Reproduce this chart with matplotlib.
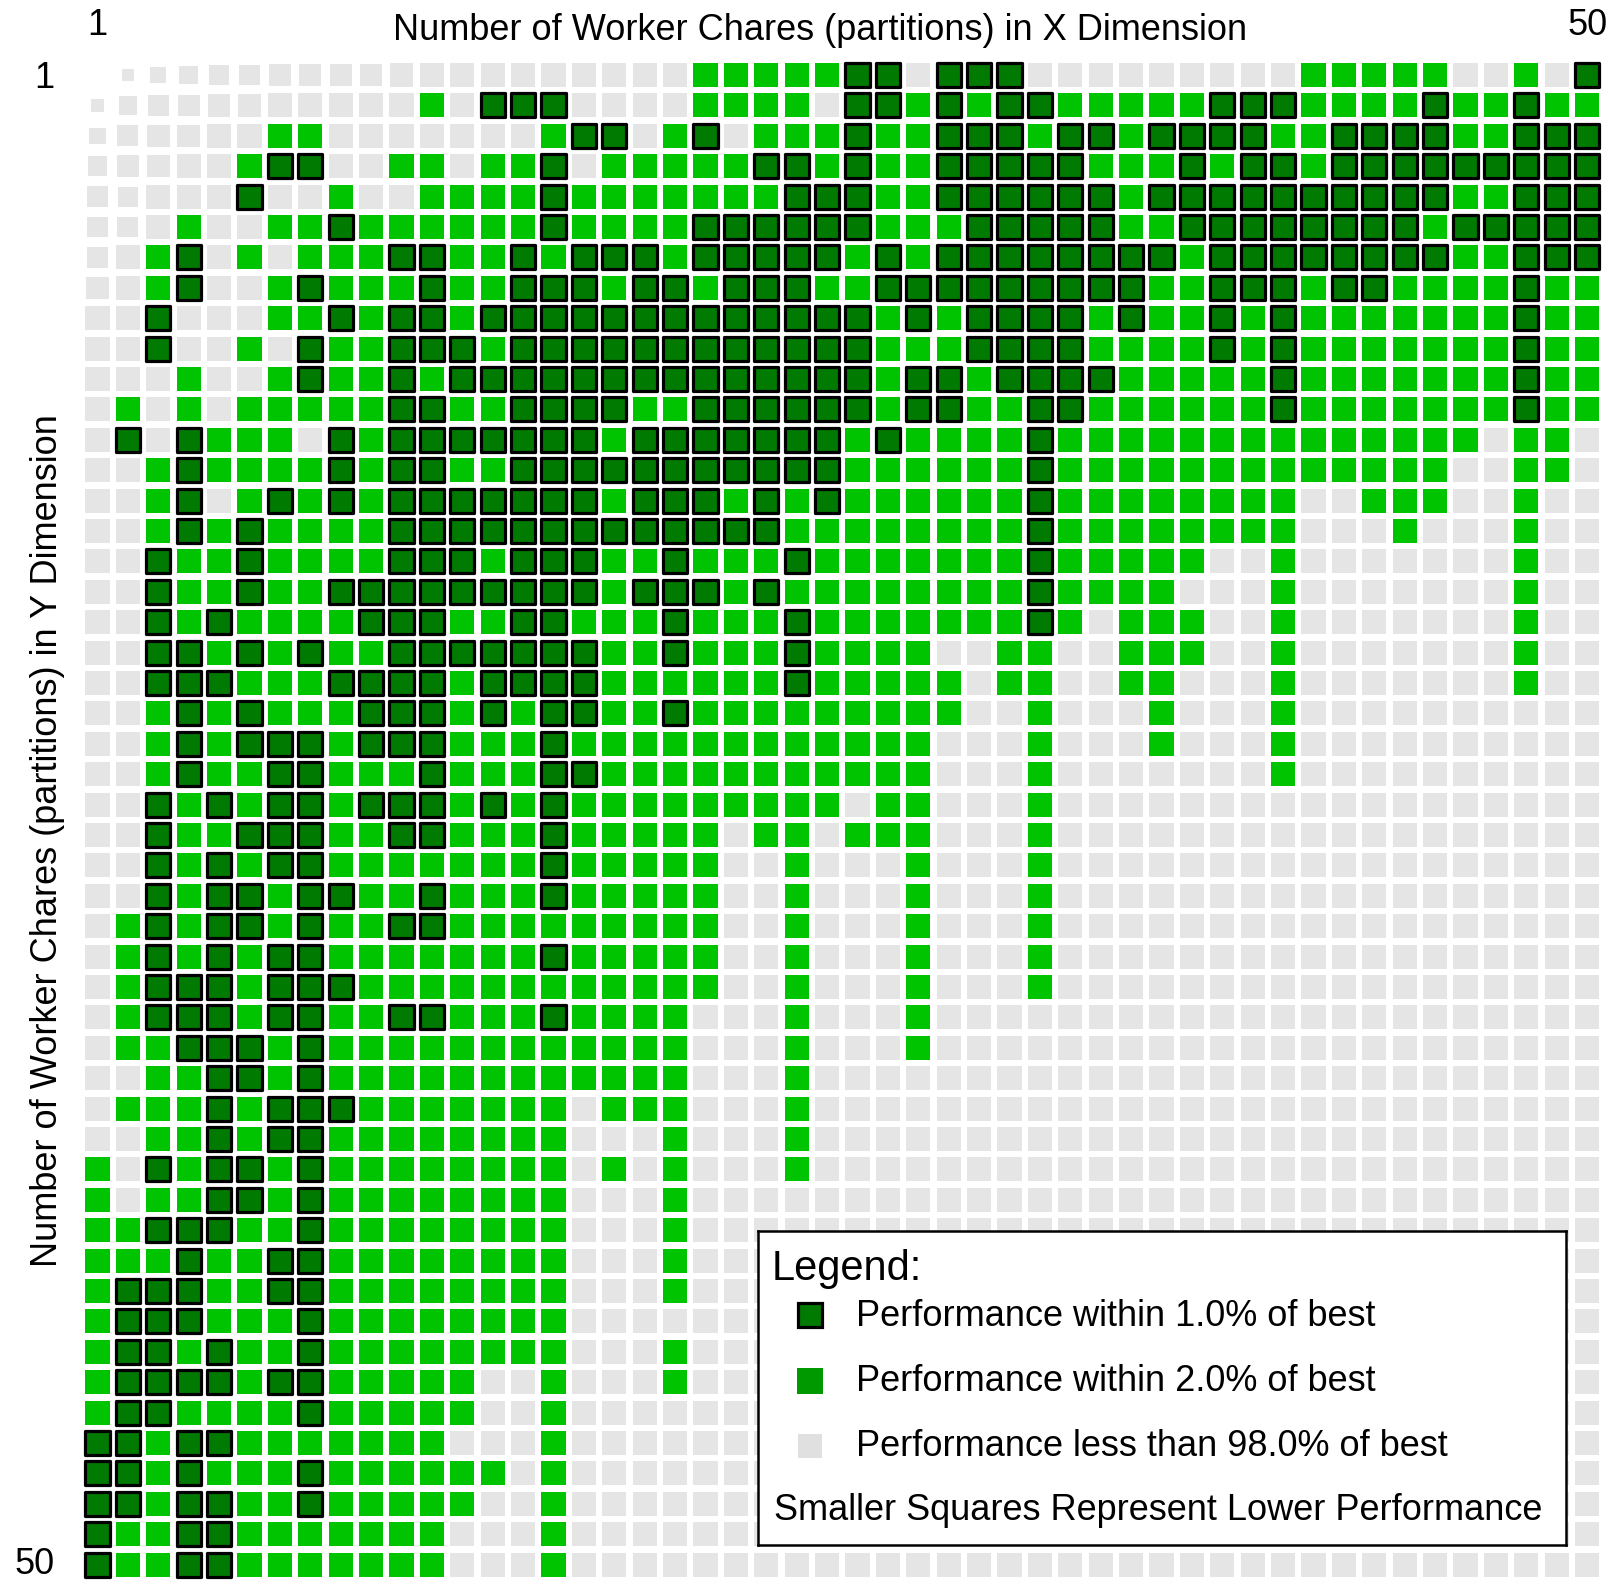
import matplotlib
matplotlib.use("Agg")
import matplotlib.pyplot as plt
from matplotlib.patches import Rectangle
from matplotlib.collections import PatchCollection

plt.rcParams['font.family'] = ['Liberation Sans', 'DejaVu Sans']

# one string per Y partition count (1..50), one char per X partition count (1..50)
# D = within 1.0% of best, G = within 2.0% of best, . = less than 98% of best
tier_rows = [
    ".......... .......... GGGGGDD.DD D......... GGGGG..G.D",
    ".......... .G.DDD.... GGGG.DDGDG DDGGGGGDDD GGGGDGGDGG",
    "......GG.. .....GDD.G D.GGGDGGDD DGDDGDDDDG GDDDDGGDDD",
    ".....GDD.. GG.GGD.GGG GGDDGDGGDD DDDGGGDGDD GDDDDDDDDD",
    ".....D..G. .GGGGDGGGG GGGDDDGGDD DDDDGDDDDD DDDDDGGDDD",
    "...G..GGDG GGGGGDGGGG DDDDDDGGGD DDDDGGDDDD DDDDGDDDDD",
    "..GD.G.GGG DDGGDGDDDG DDDDDGDGDD DDDDDDGDDD DDDDDGGDDD",
    "..GD..GDGG GDGGDDDGDD GDDDGGDDDD DDDDDGGDDD GDDGGGGDGG",
    "..D...GGDG DDGDDDDDDD DDDDDDGDGD DDDGDGGDGD GGGGGGGDGG",
    "..D..G.DGG DDDGDDDDDD DDDDDDGGGD DDDGGGGDGD GGGGGGGDGG",
    "...G..GDGG DGDDDDDDDD DDDDDDGDDG DDDDGGGGGD GGGGGGGDGG",
    ".G.G.GGGGG DDGGDDDDGG DDDDDDGDDG GDDGGGGGGD GGGGGGGDGG",
    ".D.DGGG.DG DDDDDDDGDD DDDDDGDGGG GDGGGGGGGG GGGGGG.GG.",
    "..GDGGGGDG DDGGDDDDDD DDDDDGGGGG GDGGGGGGGG GGGGG..GG.",
    "..GD.GDGDG DDDDDDDGDD DGDGDGGGGG GDGGGGGGGG ..GGG..G..",
    "..GDGDGGGG DDDDDDDDDD DDDGGGGGGG GDGGGGGGGG ...G...G..",
    "..DGGDGGGG DDDGDDDGGD GGGDGGGGGG GDGGGGG..G .......G..",
    "..DGGDGGDD DDDDDDDGDD DGDGGGGGGG GDGGGG...G .......G..",
    "..DGDGGGGD DDGGDDGGGD GGGDGGGGGG GDG.GGG..G .......G..",
    "..DDGDGDGG DDDDDDDGGD GGGDGGGG.. GG..GGG..G .......G..",
    "..DDDGGGDD DDGDDDDGGG GGGDGGGGG. GG..GG...G .......G..",
    "..GDGDGGGD DDGDGDDGGD GGGGGGGGG. .G...G...G ..........",
    "..GDGDDDGD DDGGGDGGGG GGGGGGGG.. .G...G...G ..........",
    "..GDGGDDGG GDGGGDDGGG GGGGGGGG.. .G.......G ..........",
    "..DGDGDDGD DDGDGDGGGG GGGGG.GG.. .G........ ..........",
    "..DGGDDDGG DDGGGDGGGG G.GG.GGG.. .G........ ..........",
    "..DGDGDDGG GGGGGDGGGG G..G...G.. .G........ ..........",
    "..DGDDGDDG GDGGGDGGGG G..G...G.. .G........ ..........",
    ".GDGDDGDGG DDGGGGGGGG G..G...G.. .G........ ..........",
    ".GDGDGDDGG GGGGGDGGGG G..G...G.. .G........ ..........",
    ".GDDDGDDDG GGGGGGGGGG G..G...G.. .G........ ..........",
    ".GDDDGDDGG DDGGGDGGGG ...G...G.. .......... ..........",
    ".GGDDDGDGG GGGGGGGGGG ...G...G.. .......... ..........",
    "..GGDDGDGG GGGGGGGGGG ...G...... .......... ..........",
    ".GGGDGDDDG GGGGGG.GGG ...G...... .......... ..........",
    "..GGDGDDGG GGGGGG...G ...G...... .......... ..........",
    "G.DGDDGDGG GGGGGG.G.G ...G...... .......... ..........",
    "G.GGDDGDGG GGGGGG...G .......... .......... ..........",
    "GGDDDGGDGG GGGGGG...G .......... .......... ..........",
    "GGGDGGDDGG GGGGGG...G .......... .......... ..........",
    "GDDDGGDDGG GGGGGG...G .......... .......... ..........",
    "GDDDGGGDGG GGGGGG.... .......... .......... ..........",
    "GDDGDGGDGG GGGGGG...G .......... .......... ..........",
    "GDDDDGDDGG GGG..G...G .......... .......... ..........",
    "GDDGGGGDGG GGG..G.... .......... .......... ..........",
    "DDGDDGGGGG GG...G.... .......... .......... ..........",
    "DDGDGGGDGG GGGG.G.... .......... .......... ..........",
    "DDGDDGGDGG GGG..G.... .......... .......... ..........",
    "DGGDDGGGGG GG...G.... .......... .......... ..........",
    "DGGDDGGGGG GG...G.... .......... .......... ..........",
]

# gray cells that are drawn smaller (lower performance), relative side length
small_rows = [1, 1, 1, 1, 1, 1, 1, 1, 1, 1, 1, 1,
              2, 2, 2, 2, 2, 2, 3, 3, 3, 3, 4, 4, 4, 5, 5, 6, 6, 7, 8]
small_cols = [1, 2, 3, 4, 5, 6, 7, 8, 9, 10, 11, 12,
              1, 2, 3, 4, 5, 6, 1, 2, 3, 4, 1, 2, 3, 1, 2, 1, 2, 1, 1]
small_scale = [0.03, 0.50, 0.67, 0.78, 0.83, 0.87, 0.92, 0.92, 0.93, 0.94, 0.97, 0.97,
               0.54, 0.78, 0.87, 0.90, 0.94, 0.94, 0.69, 0.87, 0.94, 0.94,
               0.82, 0.92, 0.94, 0.86, 0.83, 0.86, 0.87, 0.90, 0.94]

legend_labels = ["Performance within 1.0% of best",
                 "Performance within 2.0% of best",
                 "Performance less than 98.0% of best"]

DARK = "#007a00"
GREEN = "#00c400"
GRAY = "#e5e5e5"
SIDE = 0.79

grid = [r.replace(" ", "") for r in tier_rows]
n = len(grid)
scale = {(r, c): s for r, c, s in zip(small_rows, small_cols, small_scale)}

fig = plt.figure(figsize=(16.10, 15.82), dpi=100)
W, H = 1610, 1582
ax = fig.add_axes([82.3 / W, (H - 1579.8) / H, 1520 / W, 1520 / H])

dark, green, gray = [], [], []
for r in range(1, n + 1):
    for c in range(1, n + 1):
        t = grid[r - 1][c - 1]
        s = SIDE * scale.get((r, c), 1.0)
        sq = Rectangle((c - s / 2, r - s / 2), s, s)
        if t == "D":
            dark.append(sq)
        elif t == "G":
            green.append(sq)
        else:
            gray.append(sq)

ax.add_collection(PatchCollection(gray, facecolor=GRAY, edgecolor="none"))
ax.add_collection(PatchCollection(green, facecolor=GREEN, edgecolor="none"))
ax.add_collection(PatchCollection(dark, facecolor=DARK, edgecolor="black", linewidth=2.3))

ax.set_xlim(0.5, n + 0.5)
ax.set_ylim(n + 0.5, 0.5)
for sp in ax.spines.values():
    sp.set_visible(False)
ax.xaxis.tick_top()
ax.set_xticks([1, n])
ax.set_yticks([])
ax.tick_params(axis="x", length=0, pad=12, labelsize=26)

# row labels (the bottom one kept inside the figure)
for yv, va in [(1, "center_baseline"), (n, "center")]:
    ax.annotate(str(yv), xy=(0, yv), xycoords=ax.get_yaxis_transform(),
                xytext=(-20, 0), textcoords="offset points",
                ha="right", va=va, fontsize=26)

fig.text(820 / W, 1 - 31 / H, "Number of Worker Chares (partitions) in X Dimension",
         ha="center", va="center", fontsize=26)
fig.text(48 / W, 1 - 841 / H, "Number of Worker Chares (partitions) in Y Dimension",
         ha="center", va="center", rotation=90, fontsize=26)

# legend box
lx0, lx1, ly0, ly1 = 758, 1566, 1231, 1545
lg = fig.add_axes([lx0 / W, (H - ly1) / H, (lx1 - lx0) / W, (ly1 - ly0) / H])
lg.set_xlim(0, lx1 - lx0)
lg.set_ylim(ly1 - ly0, 0)
lg.set_xticks([])
lg.set_yticks([])
lg.set_facecolor("white")
for sp in lg.spines.values():
    sp.set_linewidth(1.8)

lg.text(14, 49, "Legend:", fontsize=30, va="baseline")
marker_y = [84, 150, 215]
text_y = [95, 160, 225]
lg.add_patch(Rectangle((52 - 12, marker_y[0] - 12), 24, 24,
                       facecolor=DARK, edgecolor="black", linewidth=2.3))
lg.add_patch(Rectangle((52 - 12.8, marker_y[1] - 12.8), 25.6, 25.6,
                       facecolor="#009900", edgecolor="none"))
lg.add_patch(Rectangle((52 - 12, marker_y[2] - 12), 24, 24,
                       facecolor="#e0e0e0", edgecolor="none"))
for yy, lab in zip(text_y, legend_labels):
    lg.text(98, yy, lab, fontsize=26, va="baseline")
lg.text(16, 289, "Smaller Squares Represent Lower Performance", fontsize=26, va="baseline")

fig.savefig("out.png", dpi=100)
